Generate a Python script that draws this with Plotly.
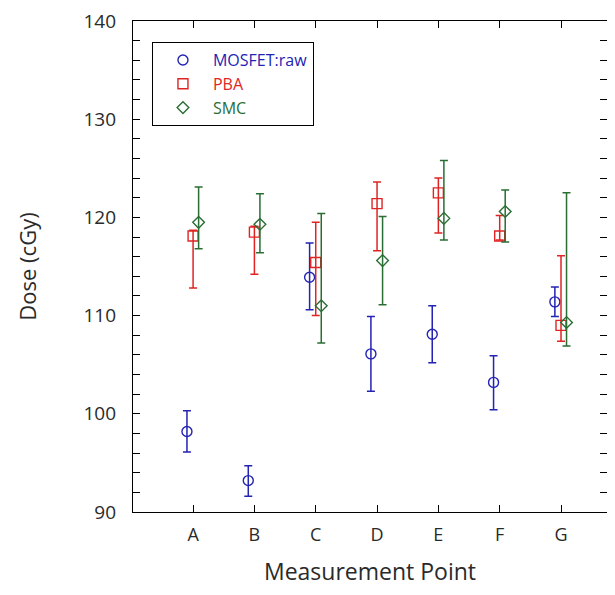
import plotly.graph_objects as go

categories = ["A", "B", "C", "D", "E", "F", "G"]

series_names = ["MOSFET:raw", "PBA", "SMC"]

mosfet_vals = [98.2, 93.2, 113.9, 106.1, 108.1, 103.2, 111.4]
mosfet_hi = [100.3, 94.7, 117.4, 109.9, 111.0, 105.9, 112.9]
mosfet_lo = [96.1, 91.6, 110.6, 102.3, 105.2, 100.4, 109.9]

pba_vals = [118.1, 118.5, 115.4, 121.4, 122.5, 118.1, 109.0]
pba_hi = [118.7, 119.1, 119.5, 123.6, 124.0, 120.2, 116.1]
pba_lo = [112.8, 114.2, 110.0, 116.6, 118.4, 117.7, 107.4]

smc_vals = [119.5, 119.3, 111.0, 115.6, 119.9, 120.6, 109.3]
smc_hi = [123.1, 122.4, 120.4, 120.1, 125.8, 122.8, 122.5]
smc_lo = [116.8, 116.4, 107.2, 111.1, 117.7, 117.5, 106.9]

colors = ["#2323b4", "#e02424", "#2a6e34"]
symbols = ["circle-open", "square-open", "diamond-open"]
offsets = [-0.1, 0.0, 0.09]
sizes = [10, 10, 9]

all_vals = [mosfet_vals, pba_vals, smc_vals]
all_hi = [mosfet_hi, pba_hi, smc_hi]
all_lo = [mosfet_lo, pba_lo, smc_lo]

fig = go.Figure()
for name, vals, hi, lo, col, sym, off, sz in zip(series_names, all_vals, all_hi, all_lo,
                                              colors, symbols, offsets, sizes):
    xs = [i + 1 + off for i in range(len(categories))]
    fig.add_trace(go.Scatter(
        x=xs, y=vals, mode="markers",
        name=f"<span style='color:{col}'>{name}</span>",
        marker=dict(symbol=sym, size=sz, color=col, line=dict(width=1.4, color=col)),
        error_y=dict(type="data", symmetric=False,
                     array=[h - v for h, v in zip(hi, vals)],
                     arrayminus=[v - l for v, l in zip(vals, lo)],
                     color=col, thickness=1.5, width=4),
    ))

font_family = "Open Sans"
text_col = "#2a2a2a"
fig.update_layout(
    width=599, height=579,
    margin=dict(l=125, r=0, t=13, b=75),
    plot_bgcolor="white", paper_bgcolor="white",
    font=dict(family=font_family, color=text_col),
    showlegend=True,
    legend=dict(x=0.04, y=0.957, xanchor="left", yanchor="top",
                bordercolor="black", borderwidth=1, bgcolor="white",
                font=dict(size=16, family=font_family),
                itemwidth=50, tracegroupgap=0),
    xaxis=dict(
        range=[0.02, 7.75], automargin=False,
        tickmode="array", tickvals=[i + 1 for i in range(len(categories))],
        ticktext=categories,
        ticks="inside", ticklen=7, tickcolor="black", tickwidth=1,
        showline=True, linecolor="black", linewidth=1.2, mirror="ticks",
        showgrid=False, zeroline=False,
        tickfont=dict(size=18, color=text_col),
        ticklabelstandoff=6,
        title=dict(text="Measurement Point", font=dict(size=23, color=text_col), standoff=33),
    ),
    yaxis=dict(
        range=[90, 140], automargin=False,
        tickmode="linear", tick0=90, dtick=10,
        ticks="inside", ticklen=7, tickcolor="black", tickwidth=1,
        minor=dict(dtick=2, ticks="inside", ticklen=7, tickcolor="black", tickwidth=1),
        showline=True, linecolor="black", linewidth=1.2, mirror="ticks",
        showgrid=False, zeroline=False,
        tickfont=dict(size=19, color=text_col),
        ticklabelstandoff=12, ticklabeloverflow="allow",
        title=dict(text="Dose (cGy)", font=dict(size=22, color=text_col), standoff=40),
    ),
)

fig.write_html("out.html")
